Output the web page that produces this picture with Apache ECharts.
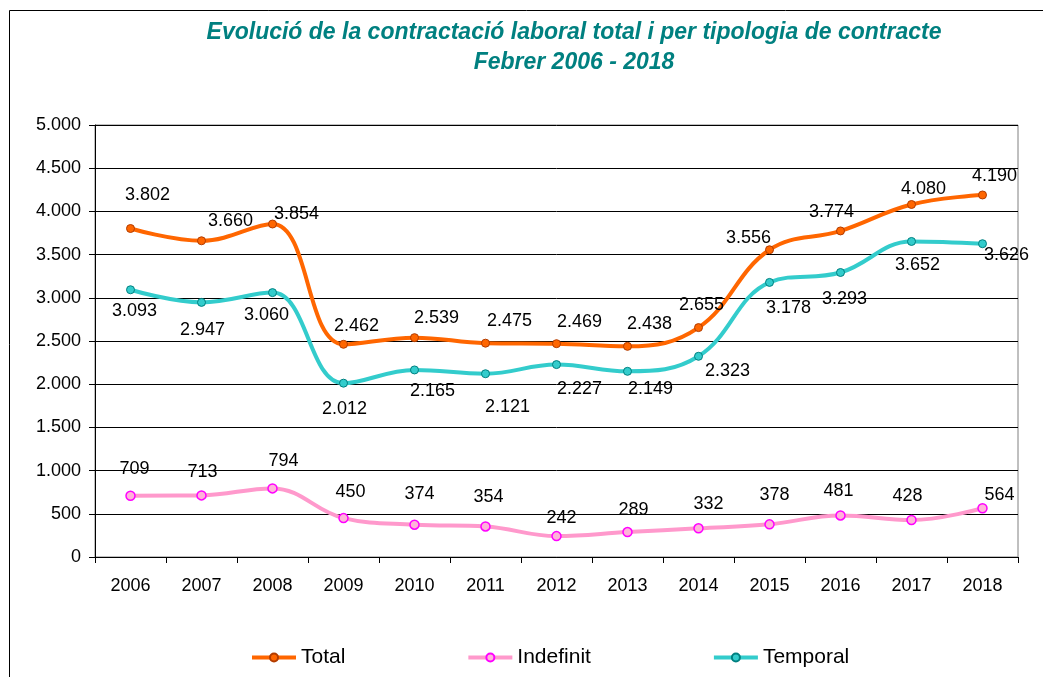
<!DOCTYPE html>
<html>
<head>
<meta charset="utf-8">
<script src="https://cdn.jsdelivr.net/npm/echarts@6/dist/echarts.min.js"></script>
<style>
  html, body { margin: 0; padding: 0; background: #fff; }
  #chart { width: 1043px; height: 677px; }
</style>
</head>
<body>
<div id="chart"></div>
<script>
// dades
const years = ['2006', '2007', '2008', '2009', '2010', '2011', '2012', '2013', '2014', '2015', '2016', '2017', '2018']
const total = [3802, 3660, 3854, 2462, 2539, 2475, 2469, 2438, 2655, 3556, 3774, 4080, 4190]
const indefinit = [709, 713, 794, 450, 374, 354, 242, 289, 332, 378, 481, 428, 564]
const temporal = [3093, 2947, 3060, 2012, 2165, 2121, 2227, 2149, 2323, 3178, 3293, 3652, 3626]
const yTicks = [0, 500, 1000, 1500, 2000, 2500, 3000, 3500, 4000, 4500, 5000]

// desplaçament de les etiquetes (px) respecte al punt
const totalLabelOff = [[17, -33], [29, -20], [24, -10], [13, -18], [22, -20], [24, -22], [23, -22], [22, -22], [3, -23], [-21, -12], [-9, -19], [12, -15], [12, -19]]
const temporalLabelOff = [[4, 21], [1, 28], [-6, 22], [1, 26], [18, 21], [22, 33], [23, 24], [23, 18], [29, 15], [19, 26], [4, 27], [6, 24], [24, 11]]
const indefinitLabelOff = [[4, -27], [1, -23], [11, -27], [7, -26], [5, -31], [3, -29], [5, -18], [6, -22], [10, -24], [5, -29], [-2, -24], [-4, -24], [17, -13]]

const fmt = v => String(v).replace(/\B(?=(\d{3})+(?!\d))/g, '.')

const withLabels = (vals, offs) => vals.map((v, i) => ({ value: v, label: { offset: offs[i] } }))

const chart = echarts.init(document.getElementById('chart'))

const labelStyle = {
  show: true,
  position: 'inside',
  color: '#000',
  fontSize: 18,
  fontFamily: 'Liberation Sans, Arial, sans-serif',
  formatter: p => fmt(p.value)
}

const option = {
  animation: false,
  textStyle: { fontFamily: 'Liberation Sans, Arial, sans-serif' },
  graphic: [{
    type: 'rect',
    shape: { x: 9.5, y: 10.5, width: 1200, height: 1000 },
    style: { fill: 'none', stroke: '#000', lineWidth: 1 },
    z: -1
  }],
  title: {
    text: 'Evolució de la contractació laboral total i per tipologia de contracte\nFebrer 2006 - 2018',
    left: 574,
    top: 18,
    textAlign: 'center',
    padding: 0,
    textStyle: {
      color: '#008080',
      fontSize: 23,
      fontStyle: 'italic',
      fontWeight: 'bold',
      lineHeight: 30,
      fontFamily: 'Liberation Sans, Arial, sans-serif'
    }
  },
  legend: {
    left: 250,
    top: 647,
    padding: 0,
    itemWidth: 44,
    itemHeight: 10,
    itemGap: 121,
    lineStyle: { width: 4 },
    textStyle: { fontSize: 21, color: '#000' },
    data: ['Total', 'Indefinit', 'Temporal']
  },
  grid: {
    left: 95,
    right: 25,
    top: 125,
    bottom: 120,
    show: true,
    borderColor: '#808080',
    borderWidth: 1,
    backgroundColor: '#fff'
  },
  xAxis: {
    type: 'category',
    data: years,
    boundaryGap: true,
    axisLine: { lineStyle: { color: '#000', width: 1 } },
    axisTick: { show: true, length: 6, inside: false, lineStyle: { color: '#000' } },
    axisLabel: { color: '#000', fontSize: 18, margin: 20 }
  },
  yAxis: {
    type: 'value',
    min: yTicks[0],
    max: yTicks[yTicks.length - 1],
    interval: 500,
    axisLine: { show: true, lineStyle: { color: '#000', width: 1 } },
    axisTick: { show: true, length: 6, lineStyle: { color: '#000' } },
    axisLabel: { color: '#000', fontSize: 18, margin: 14, formatter: v => fmt(v) },
    splitLine: { show: true, lineStyle: { color: '#000', width: 1 } }
  },
  series: [
    {
      name: 'Total',
      type: 'line',
      smooth: 0.4,
      symbol: 'circle',
      symbolSize: 8,
      lineStyle: { color: '#FF6600', width: 4 },
      itemStyle: { color: '#FF6600', borderColor: '#B23C00', borderWidth: 1 },
      label: labelStyle,
      data: withLabels(total, totalLabelOff)
    },
    {
      name: 'Indefinit',
      type: 'line',
      smooth: 0.4,
      symbol: 'circle',
      symbolSize: 9,
      lineStyle: { color: '#FF99CC', width: 4 },
      itemStyle: { color: '#FFB3D9', borderColor: '#FF00FF', borderWidth: 1.5 },
      label: labelStyle,
      data: withLabels(indefinit, indefinitLabelOff)
    },
    {
      name: 'Temporal',
      type: 'line',
      smooth: 0.4,
      symbol: 'circle',
      symbolSize: 8,
      lineStyle: { color: '#33CCCC', width: 4 },
      itemStyle: { color: '#33CCCC', borderColor: '#008080', borderWidth: 1 },
      label: labelStyle,
      data: withLabels(temporal, temporalLabelOff)
    }
  ]
}

chart.setOption(option)
window.addEventListener('resize', chart.resize)
</script>
</body>
</html>
